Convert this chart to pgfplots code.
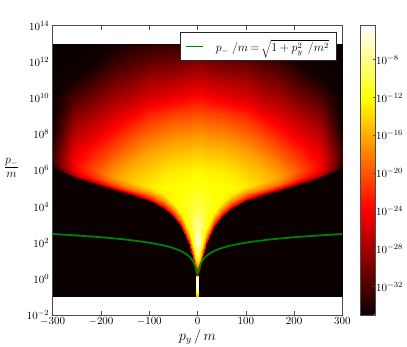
\documentclass[border=0pt]{standalone}
\usepackage{pgfplots}
\usepackage{pgfplotstable}
\pgfplotsset{compat=1.18}

% log10 of the density: x = p_y/m, ly = log10(p_-/m), v = log10(value)
% one line per column of the mesh; the rows follow the lower edge of the fan
\pgfplotstableread[row sep=\\]{
x ly v\\
0 -1 -35\\ 0 .3 -35\\ 0 .45 -24\\ 0 .7 -18\\ 0 1.1 -10\\ 0 1.1 -10\\ 0 2 -5.7\\ 0 3 -7.8\\ 0 4 -10.2\\ 0 5 -11.7\\ 0 6 -12.6\\ 0 7 -14.7\\ 0 8 -17.2\\ 0 9 -20\\ 0 10 -23.5\\ 0 11 -26.5\\ 0 12 -29.5\\ 0 13 -32.5\\
1.5 -1 -35\\ 1.5 .32 -35\\ 1.5 .47 -24\\ 1.5 .72 -18\\ 1.5 1.12 -10.5\\ 1.5 1.12 -10.5\\ 1.5 2 -5.8\\ 1.5 3 -7.8\\ 1.5 4 -10.2\\ 1.5 5 -11.7\\ 1.5 6 -12.6\\ 1.5 7 -14.7\\ 1.5 8 -17.2\\ 1.5 9 -20\\ 1.5 10 -23.5\\ 1.5 11 -26.5\\ 1.5 12 -29.5\\ 1.5 13 -32.5\\
3 -1 -35\\ 3 .38 -35\\ 3 .53 -24\\ 3 .78 -18\\ 3 1.18 -11\\ 3 1.18 -11\\ 3 2 -6\\ 3 3 -7.8\\ 3 4 -10.2\\ 3 5 -11.7\\ 3 6 -12.6\\ 3 7 -14.7\\ 3 8 -17.2\\ 3 9 -20\\ 3 10 -23.5\\ 3 11 -26.5\\ 3 12 -29.5\\ 3 13 -32.5\\
5 -1 -35\\ 5 .5 -35\\ 5 .65 -24\\ 5 .9 -18\\ 5 1.3 -12.5\\ 5 1.3 -12.5\\ 5 2 -7.5\\ 5 3 -8\\ 5 4 -10.2\\ 5 5 -11.7\\ 5 6 -12.6\\ 5 7 -14.7\\ 5 8 -17.2\\ 5 9 -20\\ 5 10 -23.5\\ 5 11 -26.5\\ 5 12 -29.5\\ 5 13 -32.5\\
8 -1 -35\\ 8 .78 -35\\ 8 .93 -24\\ 8 1.18 -18\\ 8 1.58 -12.5\\ 8 1.58 -12.5\\ 8 2 -10\\ 8 3 -8.5\\ 8 4 -10.3\\ 8 5 -11.7\\ 8 6 -12.6\\ 8 7 -14.7\\ 8 8 -17.2\\ 8 9 -20\\ 8 10 -23.5\\ 8 11 -26.5\\ 8 12 -29.5\\ 8 13 -32.5\\
12 -1 -35\\ 12 1.25 -35\\ 12 1.4 -24\\ 12 1.65 -18\\ 12 2.05 -12.5\\ 12 2.05 -12.5\\ 12 2.05 -12.5\\ 12 3 -10\\ 12 4 -10.5\\ 12 5 -11.7\\ 12 6 -12.7\\ 12 7 -14.8\\ 12 8 -17.3\\ 12 9 -20.1\\ 12 10 -23.6\\ 12 11 -26.6\\ 12 12 -29.6\\ 12 13 -32.5\\
18 -1 -35\\ 18 1.85 -35\\ 18 2 -24\\ 18 2.25 -18\\ 18 2.65 -12.5\\ 18 2.65 -12.5\\ 18 2.65 -12.5\\ 18 3 -11\\ 18 4 -11\\ 18 5 -11.8\\ 18 6 -12.8\\ 18 7 -14.9\\ 18 8 -17.4\\ 18 9 -20.2\\ 18 10 -23.8\\ 18 11 -26.8\\ 18 12 -29.8\\ 18 13 -32.6\\
25 -1 -35\\ 25 2.35 -35\\ 25 2.5 -24\\ 25 2.75 -18\\ 25 3.15 -12.5\\ 25 3.15 -12.5\\ 25 3.15 -12.5\\ 25 3.15 -12.5\\ 25 4 -11.4\\ 25 5 -11.9\\ 25 6 -12.9\\ 25 7 -15\\ 25 8 -17.5\\ 25 9 -20.3\\ 25 10 -24\\ 25 11 -27\\ 25 12 -30\\ 25 13 -32.7\\
35 -1 -35\\ 35 2.85 -35\\ 35 3 -24\\ 35 3.25 -18\\ 35 3.65 -12.5\\ 35 3.65 -12.5\\ 35 3.65 -12.5\\ 35 3.65 -12.5\\ 35 4 -12\\ 35 5 -12\\ 35 6 -13\\ 35 7 -15.1\\ 35 8 -17.6\\ 35 9 -20.4\\ 35 10 -24.2\\ 35 11 -27.2\\ 35 12 -30.2\\ 35 13 -32.8\\
50 -1 -35\\ 50 3.4 -35\\ 50 3.55 -24\\ 50 3.8 -18\\ 50 4.2 -12.5\\ 50 4.2 -12.5\\ 50 4.2 -12.5\\ 50 4.2 -12.5\\ 50 4.2 -12.5\\ 50 5 -12.1\\ 50 6 -13.2\\ 50 7 -15.3\\ 50 8 -17.8\\ 50 9 -20.6\\ 50 10 -24.5\\ 50 11 -27.5\\ 50 12 -30.5\\ 50 13 -33\\
70 -1 -35\\ 70 3.85 -35\\ 70 4 -24\\ 70 4.25 -18\\ 70 4.65 -13\\ 70 4.65 -13\\ 70 4.65 -13\\ 70 4.65 -13\\ 70 4.65 -13\\ 70 5 -12.3\\ 70 6 -13.5\\ 70 7 -15.6\\ 70 8 -18.2\\ 70 9 -21.2\\ 70 10 -25\\ 70 11 -27.7\\ 70 12 -30.7\\ 70 13 -33.2\\
100 -1 -35\\ 100 4.28 -35\\ 100 4.43 -24\\ 100 4.68 -18\\ 100 5.08 -13\\ 100 5.08 -13\\ 100 5.08 -13\\ 100 5.08 -13\\ 100 5.08 -13\\ 100 5.08 -13\\ 100 6 -14.5\\ 100 7 -16.5\\ 100 8 -19.2\\ 100 9 -22\\ 100 10 -25.5\\ 100 11 -28\\ 100 12 -31\\ 100 13 -33.5\\
135 -1 -35\\ 135 4.58 -35\\ 135 4.73 -24\\ 135 4.98 -18\\ 135 5.38 -14.7\\ 135 5.38 -14.7\\ 135 5.38 -14.7\\ 135 5.38 -14.7\\ 135 5.38 -14.7\\ 135 5.38 -14.7\\ 135 6 -15.5\\ 135 7 -18\\ 135 8 -20.7\\ 135 9 -24\\ 135 10 -27\\ 135 11 -29.5\\ 135 12 -32\\ 135 13 -34\\
170 -1 -35\\ 170 4.85 -35\\ 170 5 -24\\ 170 5.25 -19\\ 170 5.65 -16.5\\ 170 5.65 -16.5\\ 170 5.65 -16.5\\ 170 5.65 -16.5\\ 170 5.65 -16.5\\ 170 5.65 -16.5\\ 170 6 -17.2\\ 170 7 -20\\ 170 8 -22.7\\ 170 9 -25.3\\ 170 10 -28\\ 170 11 -30.5\\ 170 12 -33\\ 170 13 -34.6\\
210 -1 -35\\ 210 5.2 -35\\ 210 5.35 -25\\ 210 5.6 -21.5\\ 210 6 -20\\ 210 6 -20\\ 210 6 -20\\ 210 6 -20\\ 210 6 -20\\ 210 6 -20\\ 210 6 -20\\ 210 7 -22.3\\ 210 8 -25\\ 210 9 -27.3\\ 210 10 -30\\ 210 11 -32.5\\ 210 12 -34.6\\ 210 13 -35\\
255 -1 -35\\ 255 5.6 -35\\ 255 5.75 -27\\ 255 6 -24.5\\ 255 6.4 -24\\ 255 6.4 -24\\ 255 6.4 -24\\ 255 6.4 -24\\ 255 6.4 -24\\ 255 6.4 -24\\ 255 6.4 -24\\ 255 7 -25\\ 255 8 -27\\ 255 9 -29.5\\ 255 10 -32\\ 255 11 -34.5\\ 255 12 -35\\ 255 13 -35\\
300 -1 -35\\ 300 6.12 -35\\ 300 6.27 -33.5\\ 300 6.52 -33\\ 300 6.92 -32.8\\ 300 6.92 -32.8\\ 300 6.92 -32.8\\ 300 6.92 -32.8\\ 300 6.92 -32.8\\ 300 6.92 -32.8\\ 300 6.92 -32.8\\ 300 7 -32.8\\ 300 8 -34.3\\ 300 9 -35\\ 300 10 -35\\ 300 11 -35\\ 300 12 -35\\ 300 13 -35\\
}\fielddata

% the thin column at p_y = 0 under the tip of the fan
\pgfplotstableread[row sep=\\]{
x ly v\\
-2.2 -1 -17\\ -2.2 -.85 -13\\ -2.2 -.7 -9\\ -2.2 -.5 -5\\ -2.2 .1 -4.8\\ -2.2 .2 -24\\
2.8 -1 -17\\ 2.8 -.85 -13\\ 2.8 -.7 -9\\ 2.8 -.5 -5\\ 2.8 .1 -4.8\\ 2.8 .2 -24\\
}\columndata

\pgfplotsset{
  colormap={mplhot}{rgb(0pt)=(0.0416,0,0); rgb(365pt)=(1,0,0); rgb(746pt)=(1,1,0); rgb(1000pt)=(1,1,1)},
}
\newcommand{\ticksize}{\fontsize{11.4}{13}\selectfont}

\begin{document}
\begin{tikzpicture}
\path[use as bounding box] (-52.7pt,-32pt) rectangle (354.3pt,315pt);
\begin{axis}[
    scale only axis,
    width=289.6pt, height=289.3pt,
    at={(0pt,0pt)}, anchor=south west,
    ymode=log,
    xmin=-300, xmax=300,
    ymin=1e-2, ymax=1e14,
    xtick={-300,-200,...,300},
    ytick={1e-2,1e0,1e2,1e4,1e6,1e8,1e10,1e12,1e14},
    minor tick num=0,
    yminorticks=false,
    tick align=inside,
    major tick length=4pt,
    tick style={black!70, line width=.5pt},
    axis line style={black!70, line width=.9pt},
    tick label style={font=\ticksize},
    xticklabel style={yshift=1pt},
    xlabel={$p_y\,/\,m$},
    xlabel style={font=\fontsize{14}{16}\selectfont, yshift=3pt},
    ylabel={$\frac{p_-}{m}$},
    ylabel style={font=\fontsize{17}{19}\selectfont, rotate=-90, at={(axis description cs:-0.142,0.508)}, anchor=center},
    point meta min=-35, point meta max=-4.4,
    colormap name=mplhot,
    colorbar,
    colorbar style={
      at={(parent axis.north east)}, anchor=north west, xshift=9.2pt,
      width=15pt,
      ytick={-32,-28,-24,-20,-16,-12,-8},
      yticklabels={$10^{-32}$,$10^{-28}$,$10^{-24}$,$10^{-20}$,$10^{-16}$,$10^{-12}$,$10^{-8}$},
      ytick pos=right, yticklabel pos=right,
      tick align=inside,
      major tick length=2.5pt,
      yticklabel style={font=\ticksize, inner sep=1pt},
      axis line style={black!70, line width=.9pt},
    },
    legend style={
      at={(0.438,0.977)}, anchor=north west,
      draw=black!85, line width=.7pt,
      font=\fontsize{12}{14}\selectfont,
      inner xsep=5pt, inner ysep=5pt,
    },
    legend cell align=left,
]
\addplot[surf, shader=interp, mesh/rows=18, mesh/cols=17, mesh/ordering=y varies, point meta=\thisrow{v}, forget plot]
    table[x=x, y expr={10^(\thisrow{ly})}] {\fielddata};
\addplot[surf, shader=interp, mesh/rows=18, mesh/cols=17, mesh/ordering=y varies, point meta=\thisrow{v}, forget plot]
    table[x expr={-\thisrow{x}}, y expr={10^(\thisrow{ly})}] {\fielddata};
\addplot[surf, shader=interp, mesh/rows=6, mesh/cols=2, mesh/ordering=y varies, point meta=\thisrow{v}, forget plot]
    table[x=x, y expr={10^(\thisrow{ly})}] {\columndata};

\addplot[draw=green!50!black, line width=1.8pt, smooth, tension=.3] coordinates {
    (-300,300) (-250,250) (-200,200) (-150,150) (-100,100) (-70,70) (-50,50) (-35,35) (-25,25)
    (-18,18) (-12,12) (-8,8.1) (-5,5.1) (-3.5,3.6) (-2.5,2.7) (-1.5,2.1) (0,1.9)
    (1.5,2.1) (2.5,2.7) (3.5,3.6) (5,5.1) (8,8.1) (12,12) (18,18)
    (25,25) (35,35) (50,50) (70,70) (100,100) (150,150) (200,200) (250,250) (300,300)
};
\addlegendentry{\hspace{10pt}$p_-\;/m\,{=}\,\sqrt{1+p_y^2\;\,/m^2}$}
\end{axis}
\end{tikzpicture}
\end{document}
